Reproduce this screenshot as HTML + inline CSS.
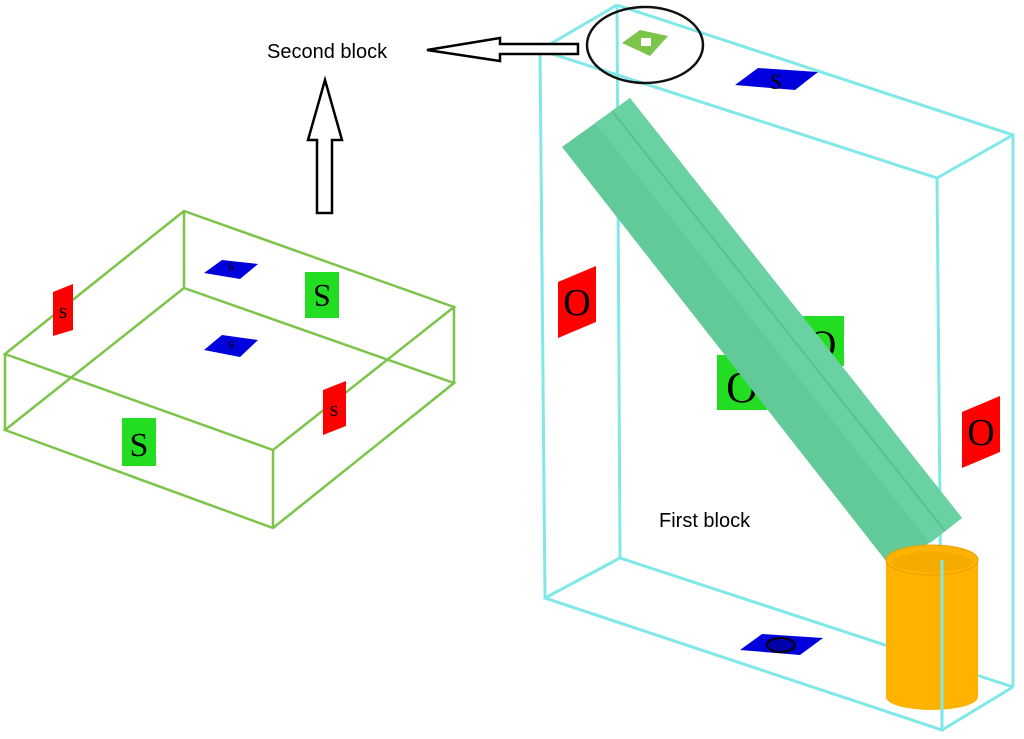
<!DOCTYPE html>
<html><head><meta charset="utf-8"><style>
html,body{margin:0;padding:0;background:#fff;}
svg{display:block;}
.s{font-family:"Liberation Sans",sans-serif;}
.r{font-family:"Liberation Serif",serif;}
</style></head><body>
<svg width="1024" height="739" viewBox="0 0 1024 739" xmlns="http://www.w3.org/2000/svg">
<!-- Left box (green wireframe) -->
<g stroke="#7cc44a" stroke-width="2.5" fill="none">
<polygon points="184,211 454,307 273,450 5,354"/>
<polygon points="184,288 454,383 273,528 5,430"/>
<line x1="184" y1="211" x2="184" y2="288"/>
<line x1="454" y1="307" x2="454" y2="383"/>
<line x1="273" y1="450" x2="273" y2="528"/>
<line x1="5" y1="354" x2="5" y2="430"/>
</g>
<polygon points="53,292 73,284 73,330 53,336" fill="#ff0000"/>
<text class="r" x="63" y="318" font-size="22" text-anchor="middle">s</text>
<polygon points="204,273 222,260 258,264 240,279" fill="#0000dd"/>
<text class="r" x="231" y="277" font-size="16" text-anchor="middle" transform="rotate(180 231 270)">s</text>
<rect x="305" y="272" width="34" height="46" fill="#22dd22"/>
<text class="r" x="322" y="307" font-size="32" text-anchor="middle" transform="rotate(180 322 296)">S</text>
<polygon points="204,350 222,335 258,340 240,357" fill="#0000dd"/>
<text class="r" x="231" y="353" font-size="16" text-anchor="middle" transform="rotate(180 231 347)">s</text>
<polygon points="323,390 346,381 346,426 323,435" fill="#ff0000"/>
<text class="r" x="334" y="416" font-size="22" text-anchor="middle">s</text>
<rect x="122" y="418" width="34" height="48" fill="#22dd22"/>
<text class="r" x="139" y="456" font-size="34" text-anchor="middle">S</text>
<!-- Right box (cyan wireframe) -->
<g stroke="#80e8e8" stroke-width="3" fill="none">
<polyline points="617,5 1013,135 1013,687"/>
<line x1="617" y1="5" x2="620" y2="558"/>
<line x1="620" y1="558" x2="1013" y2="687"/>
<polygon points="540,50 937,178 942,730 545,598"/>
<line x1="540" y1="50" x2="617" y2="5"/>
<line x1="937" y1="178" x2="1013" y2="135"/>
<line x1="545" y1="598" x2="620" y2="558"/>
<line x1="942" y1="730" x2="1013" y2="687"/>
</g>
<polygon points="735,85 758,68 818,72 795,90" fill="#0000dd"/>
<text class="r" x="776" y="89" font-size="22" text-anchor="middle">S</text>
<polygon points="740,650 762,634 823,638 800,655" fill="#0000dd"/>
<ellipse cx="781" cy="645" rx="14" ry="7" fill="#0000aa" stroke="#000" stroke-width="2"/>
<polygon points="558,282 596,266 596,322 558,338" fill="#ff0000"/>
<text class="r" x="577" y="315" font-size="38" text-anchor="middle">O</text>
<polygon points="962,412 1000,396 1000,452 962,468" fill="#ff0000"/>
<text class="r" x="981" y="445" font-size="38" text-anchor="middle">O</text>
<rect x="800" y="316" width="44" height="50" fill="#22dd22"/>
<text class="r" x="822" y="358" font-size="40" text-anchor="middle">O</text>
<rect x="717" y="355" width="50" height="55" fill="#22dd22"/>
<text class="r" x="742" y="402" font-size="44" text-anchor="middle">O</text>
<!-- beam -->
<polygon points="562,147 630,98 962,518 893,570" fill="#62c998"/>
<polygon points="595,123 630,98 962,518 930,543" fill="#6ad2a2"/>
<line x1="612" y1="111" x2="945" y2="531" stroke="#5bbf90" stroke-width="2"/>
<!-- cylinder -->
<rect x="886" y="560" width="92" height="137" fill="#ffb300"/>
<ellipse cx="932" cy="697" rx="46" ry="13" fill="#ffb300"/>
<ellipse cx="932" cy="560" rx="46" ry="15" fill="#ffb300" stroke="#e6a000"/>
<ellipse cx="932" cy="562" rx="40" ry="10" fill="#f5aa00"/>
<line x1="942" y1="560" x2="942" y2="730" stroke="#80e8e8" stroke-width="3"/>
<!-- circle + small icon -->
<ellipse cx="645" cy="45" rx="58" ry="38" fill="none" stroke="#111" stroke-width="2.5"/>
<polygon points="622,43 640,30 668,36 650,56" fill="#7cc44a"/>
<rect x="641" y="38" width="10" height="8" fill="#fff"/>
<!-- arrows -->
<polygon points="325,80 342,140 332,140 332,213 317,213 317,140 308,140" fill="#fff" stroke="#000" stroke-width="2.5"/>
<polygon points="427,50 500,38 500,44 578,44 578,54 500,54 500,61" fill="#fff" stroke="#000" stroke-width="2.5"/>
<text class="s" x="267" y="58" font-size="20">Second block</text>
<text class="s" x="659" y="527" font-size="20">First block</text>
</svg>
</body></html>
